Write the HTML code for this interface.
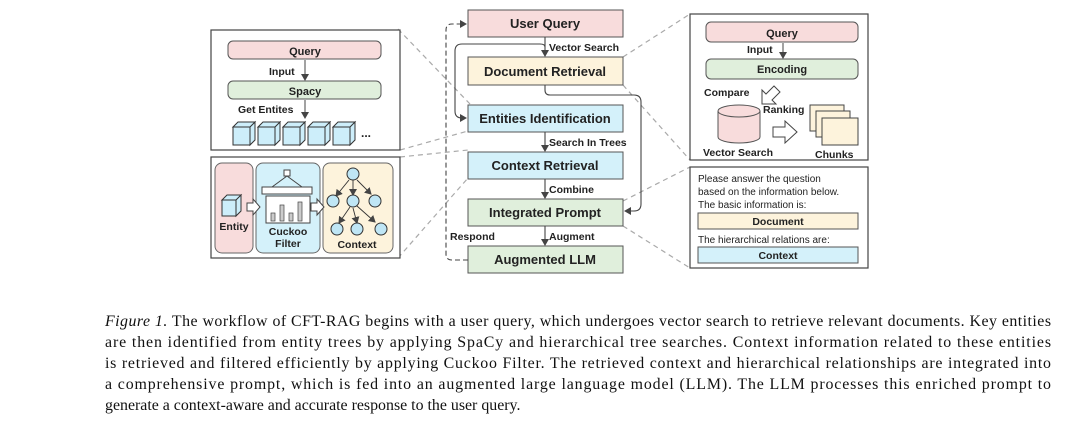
<!DOCTYPE html>
<html><head><meta charset="utf-8"><style>
body{margin:0;background:#fff;width:1080px;height:431px;overflow:hidden}
svg{display:block}
.b{font-family:"Liberation Sans",sans-serif;font-weight:bold;fill:#222}
.n{font-family:"Liberation Sans",sans-serif;fill:#222}
.c{font-family:"Liberation Serif",serif;font-size:15.9px;fill:#111}
</style></head><body>
<svg width="1080" height="431" viewBox="0 0 1080 431" xmlns="http://www.w3.org/2000/svg">
<defs>
<marker id="a" markerWidth="8" markerHeight="8" refX="6" refY="4" orient="auto" markerUnits="userSpaceOnUse"><path d="M0,0 L7,4 L0,8 z" fill="#444"/></marker>
</defs>
<g stroke="#aaa" stroke-width="1.2" stroke-dasharray="5,4" fill="none">
<line x1="398" y1="29" x2="470" y2="104"/>
<line x1="400" y1="150" x2="468" y2="131"/>
<line x1="400" y1="157" x2="468" y2="150"/>
<line x1="398" y1="258" x2="468" y2="178"/>
<line x1="623" y1="57" x2="690" y2="14"/>
<line x1="623" y1="85" x2="690" y2="160"/>
<line x1="623" y1="201" x2="690" y2="167"/>
<line x1="623" y1="226" x2="690" y2="268"/>
</g>
<rect x="211" y="30" width="189" height="120" fill="#fff" stroke="#444" stroke-width="1.2"/>
<rect x="228" y="41" width="153" height="18" rx="5" fill="#f8dcdc" stroke="#555"/>
<text x="305" y="55" text-anchor="middle" class="b" font-size="11">Query</text>
<text x="269" y="75" class="b" font-size="10.5">Input</text>
<line x1="305" y1="60" x2="305" y2="80" stroke="#444" marker-end="url(#a)"/>
<rect x="228" y="81" width="153" height="18" rx="5" fill="#e0efdc" stroke="#555"/>
<text x="305" y="95" text-anchor="middle" class="b" font-size="11">Spacy</text>
<text x="238" y="113" class="b" font-size="10.5">Get Entites</text>
<line x1="305" y1="100" x2="305" y2="118" stroke="#444" marker-end="url(#a)"/>
<g fill="#cdeefa" stroke="#333" stroke-width="1">
<g id="cube"><rect x="233" y="127" width="17" height="18"/><path d="M233,127 l5,-5 h17 l-5,5z M250,127 l5,-5 v18 l-5,5z"/></g>
<use href="#cube" x="25"/><use href="#cube" x="50"/><use href="#cube" x="75"/><use href="#cube" x="100"/>
</g>
<text x="361" y="137" class="b" font-size="12">...</text>
<rect x="211" y="157" width="189" height="101" fill="#fff" stroke="#444" stroke-width="1.2"/>
<rect x="215" y="163" width="38" height="90" rx="7" fill="#f8dcdc" stroke="#666"/>
<rect x="256" y="163" width="64" height="90" rx="7" fill="#d4f1fa" stroke="#666"/>
<rect x="323" y="163" width="70" height="90" rx="7" fill="#fdf3dc" stroke="#666"/>
<g fill="#cdeefa" stroke="#333"><rect x="222" y="200" width="14" height="16"/><path d="M222,200 l5,-5 h14 l-5,5z M236,200 l5,-5 v16 l-5,5z"/></g>
<text x="234" y="230" text-anchor="middle" class="b" font-size="10.5">Entity</text>
<path d="M247,203 h6 v-4 l7,8 l-7,8 v-4 h-6z" fill="#fff" stroke="#444"/>
<rect x="284" y="170" width="6" height="6" fill="#fff" stroke="#444"/>
<rect x="262" y="187" width="50" height="7" fill="#fff" stroke="#444"/>
<path d="M287,176 L272,187 M287,176 L302,187" stroke="#444" fill="none"/>
<rect x="266" y="196" width="44" height="27" fill="#fff" stroke="#444"/>
<g fill="#ccc" stroke="#444" stroke-width=".7"><rect x="271" y="213" width="4" height="8"/><rect x="280" y="205" width="4" height="16"/><rect x="289" y="213" width="4" height="8"/><rect x="298" y="202" width="4" height="19"/></g>
<text x="288" y="235" text-anchor="middle" class="b" font-size="10.5">Cuckoo</text>
<text x="288" y="247" text-anchor="middle" class="b" font-size="10.5">Filter</text>
<path d="M311,203 h6 v-4 l7,8 l-7,8 v-4 h-6z" fill="#fff" stroke="#444"/>
<g stroke="#333" fill="none" marker-end="url(#a)" stroke-width=".9"><line x1="349" y1="180" x2="336" y2="196"/><line x1="353" y1="180" x2="353" y2="195"/><line x1="357" y1="180" x2="371" y2="194"/><line x1="350" y1="207" x2="339" y2="223"/><line x1="353" y1="208" x2="357" y2="223"/><line x1="357" y1="206" x2="375" y2="222"/></g>
<g fill="#bfe6f5" stroke="#333"><circle cx="353" cy="174" r="6"/><circle cx="333" cy="201" r="6"/><circle cx="353" cy="201" r="6"/><circle cx="375" cy="201" r="6"/><circle cx="337" cy="229" r="6"/><circle cx="357" cy="229" r="6"/><circle cx="381" cy="229" r="6"/></g>
<text x="357" y="248" text-anchor="middle" class="b" font-size="10.5">Context</text>
<g stroke="#555" stroke-width="1">
<rect x="468" y="10" width="155" height="27" fill="#f8dcdc"/>
<rect x="468" y="57" width="155" height="28" fill="#fdf3dc"/>
<rect x="468" y="105" width="155" height="27" fill="#d4f1fa"/>
<rect x="468" y="152" width="155" height="27" fill="#d4f1fa"/>
<rect x="468" y="199" width="155" height="27" fill="#e0efdc"/>
<rect x="468" y="246" width="155" height="27" fill="#e0efdc"/>
</g>
<g class="b" font-size="13" text-anchor="middle">
<text x="545" y="28">User Query</text>
<text x="545" y="76">Document Retrieval</text>
<text x="545" y="123">Entities Identification</text>
<text x="545" y="170">Context Retrieval</text>
<text x="545" y="217">Integrated Prompt</text>
<text x="545" y="264">Augmented LLM</text>
</g>
<g stroke="#444" stroke-width="1.1" fill="none" marker-end="url(#a)">
<line x1="545" y1="37" x2="545" y2="56"/>
<line x1="545" y1="132" x2="545" y2="151"/>
<line x1="545" y1="179" x2="545" y2="198"/>
<line x1="545" y1="226" x2="545" y2="245"/>
<path d="M545,47 Q545,44 540,44 L462,44 Q455,44 455,51 L455,111 Q455,118 462,118 L466,118"/>
<path d="M545,85 L545,90 Q545,95 550,95 L634,95 Q641,95 641,102 L641,204 Q641,211 634,211 L625,211"/>
<path d="M468,260 L452,260 Q446,260 446,254 L446,30 Q446,24 452,24 L466,24" stroke-dasharray="5,3"/>
</g>
<g class="b" font-size="10.5">
<text x="549" y="51">Vector Search</text>
<text x="549" y="146">Search In Trees</text>
<text x="549" y="193">Combine</text>
<text x="549" y="240">Augment</text>
<text x="450" y="240">Respond</text>
</g>
<rect x="690" y="14" width="178" height="146" fill="#fff" stroke="#444" stroke-width="1.2"/>
<rect x="706" y="22" width="152" height="20" rx="5" fill="#f8dcdc" stroke="#555"/>
<text x="782" y="37" text-anchor="middle" class="b" font-size="11">Query</text>
<text x="747" y="53" class="b" font-size="10.5">Input</text>
<line x1="783" y1="43" x2="783" y2="58" stroke="#444" marker-end="url(#a)"/>
<rect x="706" y="59" width="152" height="20" rx="5" fill="#e0efdc" stroke="#555"/>
<text x="782" y="73" text-anchor="middle" class="b" font-size="11">Encoding</text>
<text x="704" y="96" class="b" font-size="10.5">Compare</text>
<path d="M774,86 l-8,8 l-4,-4 v14 h14 l-4,-4 l8,-8z" fill="#fff" stroke="#444"/>
<path d="M718,111 v26 a21,6 0 0 0 42,0 v-26" fill="#f8dcdc" stroke="#555"/>
<ellipse cx="739" cy="111" rx="21" ry="6" fill="#f8dcdc" stroke="#555"/>
<text x="763" y="113" class="b" font-size="10.5">Ranking</text>
<path d="M773,127 h12 v-6 l12,11 l-12,11 v-6 h-12z" fill="#fff" stroke="#444"/>
<g fill="#fdf3dc" stroke="#444"><rect x="810" y="105" width="34" height="26"/><rect x="816" y="111" width="34" height="26"/><rect x="822" y="118" width="36" height="27"/></g>
<text x="703" y="156" class="b" font-size="10.5">Vector Search</text>
<text x="815" y="158" class="b" font-size="10.5">Chunks</text>
<rect x="690" y="167" width="178" height="101" fill="#fff" stroke="#444" stroke-width="1.2"/>
<g class="n" font-size="10">
<text x="698" y="182">Please answer the question</text>
<text x="698" y="195">based on the information below.</text>
<text x="698" y="208">The basic information is:</text>
<text x="698" y="243">The hierarchical relations are:</text>
</g>
<rect x="698" y="213" width="160" height="16" fill="#fdf3dc" stroke="#555"/>
<text x="778" y="225" text-anchor="middle" class="b" font-size="10.5">Document</text>
<rect x="698" y="247" width="160" height="16" fill="#d4f1fa" stroke="#555"/>
<text x="778" y="259" text-anchor="middle" class="b" font-size="10.5">Context</text>
<text class="c" x="105" y="326" textLength="946" lengthAdjust="spacing"><tspan font-style="italic">Figure 1.</tspan> The workflow of CFT-RAG begins with a user query, which undergoes vector search to retrieve relevant documents. Key entities</text>
<text class="c" x="105" y="347" textLength="946" lengthAdjust="spacing">are then identified from entity trees by applying SpaCy and hierarchical tree searches. Context information related to these entities</text>
<text class="c" x="105" y="368" textLength="946" lengthAdjust="spacing">is retrieved and filtered efficiently by applying Cuckoo Filter. The retrieved context and hierarchical relationships are integrated into</text>
<text class="c" x="105" y="389" textLength="946" lengthAdjust="spacing">a comprehensive prompt, which is fed into an augmented large language model (LLM). The LLM processes this enriched prompt to</text>
<text class="c" x="105" y="410">generate a context-aware and accurate response to the user query.</text>
</svg>
</body></html>
